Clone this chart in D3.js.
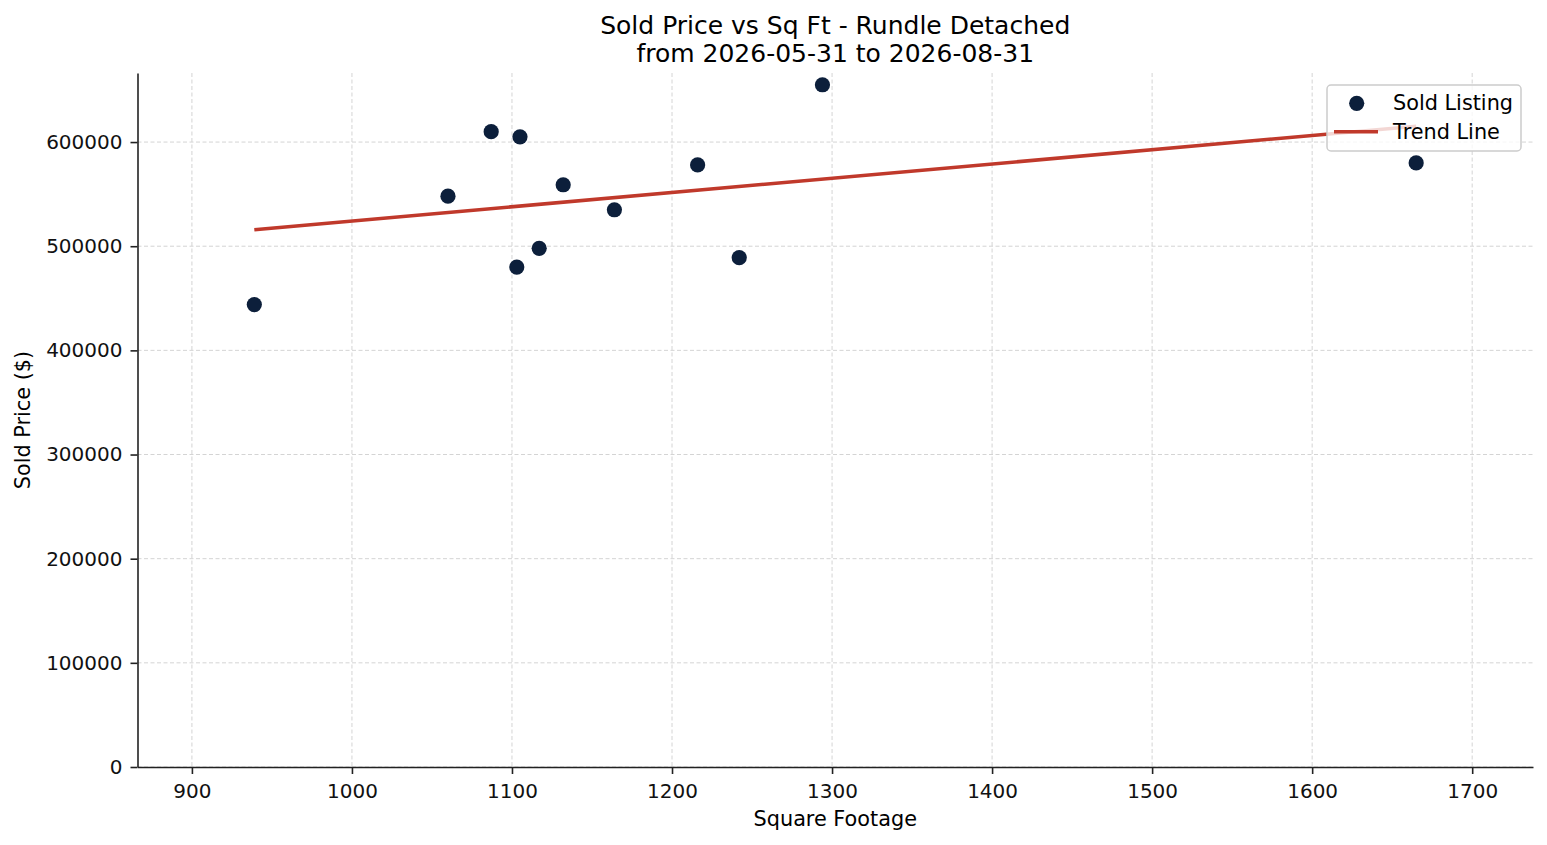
<!DOCTYPE html>
<html>
<head>
<meta charset="utf-8">
<script src="https://cdn.jsdelivr.net/npm/d3@7"></script>
<style>
  body { margin: 0; background: #fff; }
  svg { display: block; font-family: "DejaVu Sans", sans-serif; }
  .grid line { stroke: #d4d4d4; stroke-width: 1; stroke-dasharray: 4 2.5; }
  .axis path, .axis line { stroke: #222; stroke-width: 1.6; }
  .axis text { font-family: "DejaVu Sans", sans-serif; font-size: 20px; fill: #111; }
</style>
</head>
<body>
<div id="chart"></div>
<script>
// Sold listings (square footage vs sold price)
const sqft   = [939, 1060, 1087, 1105, 1103, 1117, 1132, 1164, 1216, 1242, 1294, 1665];
const prices = [444000, 548000, 610000, 605000, 480000, 498000, 559000, 535000, 578000, 489000, 655000, 580000];
const xTicks = [900, 1000, 1100, 1200, 1300, 1400, 1500, 1600, 1700];
const yTicks = [0, 100000, 200000, 300000, 400000, 500000, 600000];
const titleLines = ["Sold Price vs Sq Ft - Rundle Detached", "from 2026-05-31 to 2026-08-31"];

const width = 1547, height = 845;
const margin = { left: 137.5, right: 14, top: 73, bottom: 78 };

const svg = d3.select("#chart").append("svg")
    .attr("width", width)
    .attr("height", height);

const x = d3.scaleLinear().domain([866, 1738]).range([margin.left, width - margin.right]);
const y = d3.scaleLinear().domain([0, 666300]).range([height - margin.bottom, margin.top]);

// dashed grid
const grid = svg.append("g").attr("class", "grid");
grid.selectAll(".gx").data(xTicks).join("line")
    .attr("x1", d => x(d)).attr("x2", d => x(d))
    .attr("y1", y.range()[1]).attr("y2", y.range()[0]);
grid.selectAll(".gy").data(yTicks).join("line")
    .attr("y1", d => y(d)).attr("y2", d => y(d))
    .attr("x1", x.range()[0]).attr("x2", x.range()[1]);

// least squares trend line over the data range
const pts = sqft.map((s, i) => ({ s, p: prices[i] }));
const mx = d3.mean(sqft), my = d3.mean(prices);
const slope = d3.sum(pts, d => (d.s - mx) * (d.p - my)) / d3.sum(pts, d => (d.s - mx) ** 2);
const trend = d3.extent(sqft).map(s => ({ s, p: my + slope * (s - mx) }));

svg.append("path")
    .datum(trend)
    .attr("fill", "none")
    .attr("stroke", "#c0392b")
    .attr("stroke-width", 3.6)
    .attr("d", d3.line().x(d => x(d.s)).y(d => y(d.p)));

svg.append("g").selectAll("circle")
    .data(pts)
    .join("circle")
    .attr("cx", d => x(d.s))
    .attr("cy", d => y(d.p))
    .attr("r", 7.6)
    .attr("fill", "#0c1f3b");

// axes (left + bottom spines only)
svg.append("g")
    .attr("class", "axis")
    .attr("transform", `translate(0,${y(0)})`)
    .call(d3.axisBottom(x).tickValues(xTicks).tickFormat(d3.format("d")).tickSize(7).tickPadding(6).tickSizeOuter(0))
    .call(g => g.selectAll("text").attr("dy", "0.9em"));

svg.append("g")
    .attr("class", "axis")
    .attr("transform", `translate(${margin.left},0)`)
    .call(d3.axisLeft(y).tickValues(yTicks).tickFormat(d3.format("d")).tickSize(7).tickPadding(8).tickSizeOuter(0));

// axis labels
svg.append("text")
    .attr("x", (x.range()[0] + x.range()[1]) / 2)
    .attr("y", 819)
    .attr("dy", "0.35em")
    .attr("text-anchor", "middle")
    .attr("font-size", 20.8)
    .text("Square Footage");

svg.append("text")
    .attr("transform", `translate(23,${(y.range()[0] + y.range()[1]) / 2}) rotate(-90)`)
    .attr("dy", "0.35em")
    .attr("text-anchor", "middle")
    .attr("font-size", 20.8)
    .text("Sold Price ($)");

// title
svg.append("g").selectAll("text")
    .data(titleLines)
    .join("text")
    .attr("x", (x.range()[0] + x.range()[1]) / 2)
    .attr("y", (d, i) => 25 + i * 28)
    .attr("dy", "0.35em")
    .attr("text-anchor", "middle")
    .attr("font-size", 25)
    .text(d => d);

// legend
const legend = svg.append("g").attr("transform", "translate(1327,85)");
legend.append("rect")
    .attr("width", 194).attr("height", 66).attr("rx", 4)
    .attr("fill", "#fff").attr("fill-opacity", 0.8)
    .attr("stroke", "#cccccc").attr("stroke-width", 1.5);
legend.append("circle")
    .attr("cx", 29.7).attr("cy", 18.3).attr("r", 7.6).attr("fill", "#0c1f3b");
legend.append("line")
    .attr("x1", 7).attr("x2", 51).attr("y1", 46.7).attr("y2", 46.7)
    .attr("stroke", "#c0392b").attr("stroke-width", 3.6);
legend.selectAll(".lt")
    .data(["Sold Listing", "Trend Line"])
    .join("text")
    .attr("x", 66)
    .attr("y", (d, i) => 17.5 + i * 29.5)
    .attr("dy", "0.35em")
    .attr("font-size", 20.8)
    .text(d => d);
</script>
</body>
</html>
